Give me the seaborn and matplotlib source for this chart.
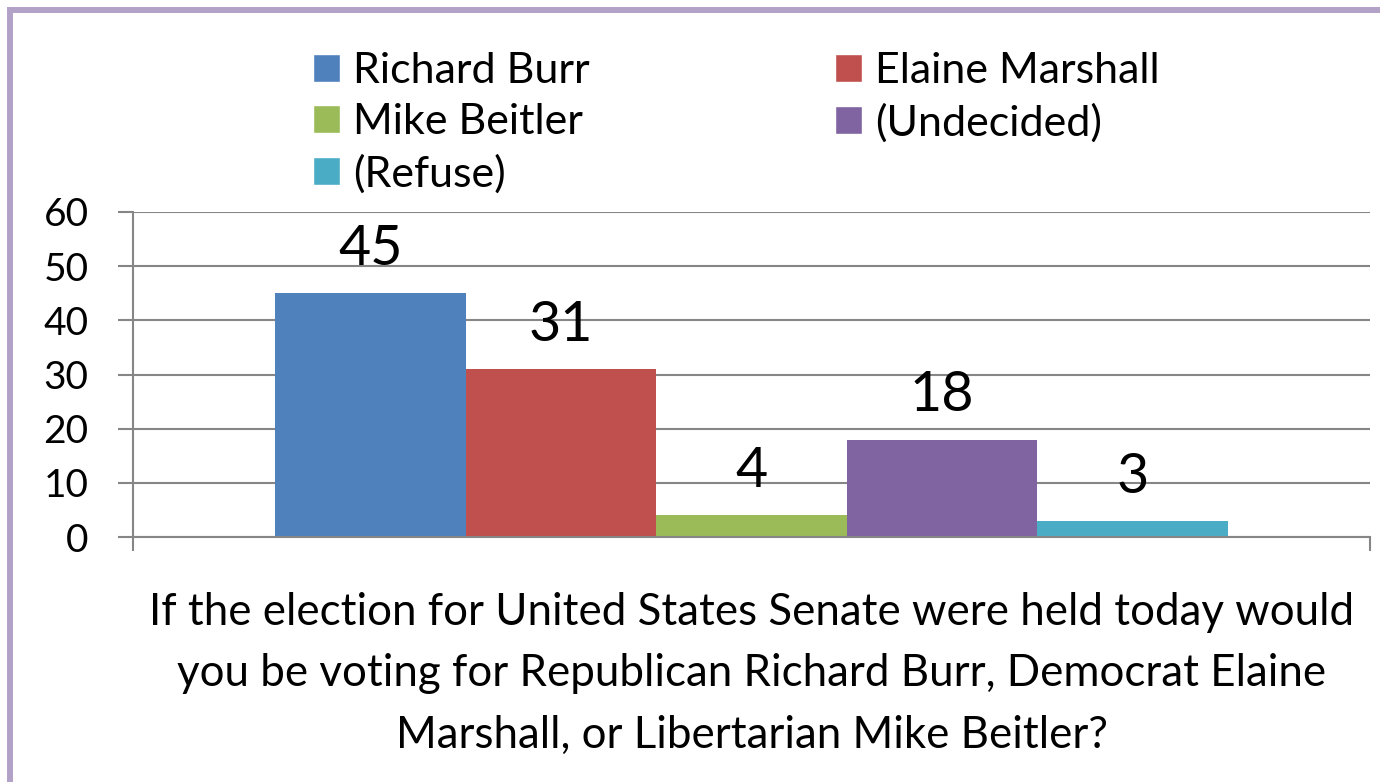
import pandas as pd
import seaborn as sns
import matplotlib.pyplot as plt
from matplotlib.patches import Rectangle, Patch

candidates = ['Richard Burr', 'Elaine Marshall', 'Mike Beitler', '(Undecided)', '(Refuse)']
values = [45, 31, 4, 18, 3]
colors = ['#4F81BD', '#C0504D', '#9BBB59', '#8064A2', '#4BACC6']
question = ('If the election for United States Senate were held today would\n'
            'you be voting for Republican Richard Burr, Democrat Elaine\n'
            'Marshall, or Libertarian Mike Beitler?')

sns.set_style('white')
plt.rcParams['font.family'] = ['Lato', 'DejaVu Sans']
plt.rcParams['text.color'] = 'black'

df = pd.DataFrame({'question': ['q'] * len(candidates),
                   'candidate': candidates,
                   'value': values})

fig = plt.figure(figsize=(13.8, 7.82), dpi=100)
ax = fig.add_axes([133 / 1380, 1 - 537 / 782, 1237 / 1380, 325 / 782])

sns.barplot(data=df, x='question', y='value', hue='candidate',
            hue_order=candidates, palette=colors, width=0.77, saturation=1,
            linewidth=0, errorbar=None, legend=False, ax=ax)

for c in ax.containers:
    ax.bar_label(c, padding=13, fontsize=40, color='black')

grey = '#868686'
ax.set_ylim(0, 60)
ax.set_xlim(-0.5, 0.5)
ax.set_yticks(range(0, 61, 10))
ax.yaxis.grid(True, color=grey, linewidth=1.5)
ax.set_axisbelow(True)
ax.set_xticks([-0.5, 0.5])
ax.set_xticklabels(['', ''])
ax.tick_params(axis='y', length=11, width=1.5, color=grey, labelsize=28, pad=21,
               left=True, labelcolor='black')
ax.tick_params(axis='x', length=10, width=1.5, color=grey, bottom=True)
for s in ['top', 'right']:
    ax.spines[s].set_visible(False)
for s in ['left', 'bottom']:
    ax.spines[s].set_color(grey)
    ax.spines[s].set_linewidth(1.5)
ax.set_ylabel('')
ax.set_xlabel(question, fontsize=31.6, linespacing=1.62, labelpad=26, color='black')

order = [0, 2, 4, 1, 3]
handles = [Patch(facecolor=colors[i], label=candidates[i]) for i in order]
fig.legend(handles=handles, ncol=2, loc='upper left',
           bbox_to_anchor=(313 / 1380, 1 - 52 / 782), frameon=False,
           fontsize=31, handlelength=0.63, handleheight=0.63,
           handletextpad=0.3, labelspacing=0.3, columnspacing=5.7,
           borderaxespad=0, borderpad=0)

fig.add_artist(Rectangle((10 / 1380, -0.1), 1.2, 1 - 10 / 782 + 0.1,
                         transform=fig.transFigure, fill=False,
                         edgecolor='#B3A2C7', linewidth=4.3))

fig.savefig('out.png', dpi=100)
